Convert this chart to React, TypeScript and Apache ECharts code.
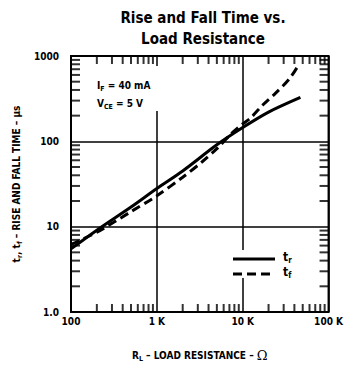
import React, { useEffect, useRef } from "react";
import * as echarts from "echarts";

const FONT = "'DejaVu Sans Condensed', 'DejaVu Sans', sans-serif";

// Rise time (solid) – load resistance (ohm) vs time (µs)
const R_RISE = [100, 200, 500, 1000, 2000, 5000, 10000, 20000, 47000];
const T_RISE = [5.5, 9.1, 17, 28, 45, 91, 145, 220, 327];

// Fall time (dashed)
const R_FALL = [100, 200, 500, 1000, 2000, 3400, 5000, 7500, 10000, 12500, 17000, 24000, 35000, 45000];
const T_FALL = [6.2, 8.6, 15, 23, 38, 58, 82, 125, 160, 190, 265, 365, 540, 790];

// Minor tick positions
const X_MINOR = [200, 300, 400, 500, 600, 700, 800, 900, 2000, 3000, 4000, 5000, 6000, 7000, 8000, 9000, 20000, 30000, 40000, 50000, 60000, 70000, 80000, 90000];
const Y_MINOR = [2, 3, 4, 5, 6, 7, 8, 9, 20, 30, 40, 50, 60, 70, 80, 90, 200, 300, 400, 500, 600, 700, 800, 900];

const X_TICK_LABELS: Record<number, string> = { 100: "100", 1000: "1 K", 10000: "10 K", 100000: "100 K" };
const Y_TICK_LABELS: Record<number, string> = { 1: "1.0", 10: "10", 100: "100", 1000: "1000" };

const X_MIN = 100, X_MAX = 100000, Y_MIN = 1, Y_MAX = 1000;
const TICK_LEN = 8;

export default function App() {
  const ref = useRef<HTMLDivElement>(null);
  useEffect(() => {
    if (!ref.current) return;
    const chart = echarts.init(ref.current, undefined, { renderer: "svg" });
    const sub = { fontSize: 7, fontWeight: "bold", fontFamily: FONT, color: "#000", lineHeight: 8, verticalAlign: "bottom" };
    const main = { fontSize: 10, fontWeight: "bold", fontFamily: FONT, color: "#000", lineHeight: 14 };
    const tickSeries = (data: number[][], size: number[], offset: number[]) => ({
      type: "scatter",
      clip: false,
      symbol: "rect",
      symbolSize: size,
      symbolOffset: offset,
      itemStyle: { color: "#000" },
      data,
    });
    chart.setOption({
      animation: false,
      backgroundColor: "#fff",
      title: {
        text: "Rise and Fall Time vs.\nLoad Resistance",
        left: 198,
        top: 2,
        textAlign: "center",
        textStyle: { fontFamily: FONT, fontWeight: "bold", fontSize: 15, lineHeight: 21, color: "#000" },
      },
      grid: { left: 71, top: 56, right: 16, bottom: 51, show: true, borderColor: "#000", borderWidth: 2 },
      xAxis: {
        type: "log",
        logBase: 10,
        min: X_MIN,
        max: X_MAX,
        axisLine: { show: false },
        axisTick: { show: false },
        splitLine: { show: true, lineStyle: { color: "#000", width: 1.5 } },
        axisLabel: {
          formatter: (v: number) => X_TICK_LABELS[Math.round(v)] ?? "",
          fontFamily: FONT, fontWeight: "bold", fontSize: 10, color: "#000", margin: 4,
        },
        name: "{m|R}{s|L}{m| – LOAD RESISTANCE – }{o|Ω}",
        nameLocation: "middle",
        nameGap: 36,
        nameTextStyle: { rich: { m: main, s: sub, o: { ...main, fontSize: 13, fontWeight: "normal", fontFamily: "'DejaVu Serif', serif" } } },
      },
      yAxis: {
        type: "log",
        logBase: 10,
        min: Y_MIN,
        max: Y_MAX,
        axisLine: { show: false },
        axisTick: { show: false },
        splitLine: { show: true, lineStyle: { color: "#000", width: 1.5 } },
        axisLabel: {
          formatter: (v: number) => Y_TICK_LABELS[Math.round(v)] ?? "",
          fontFamily: FONT, fontWeight: "bold", fontSize: 10, color: "#000", margin: 12,
        },
        name: "{m|t}{s|r}{m|, t}{s|f}{m| – RISE AND FALL TIME – µs}",
        nameLocation: "middle",
        nameRotate: 90,
        nameGap: 39,
        nameTextStyle: { rich: { m: main, s: sub } },
      },
      graphic: [
        { type: "rect", shape: { x: 90, y: 66, width: 76, height: 45 }, style: { fill: "#fff" }, z: 5 },
        {
          type: "text", x: 97, y: 78, z: 6,
          style: { text: "{m|I}{s|F}{m| = 40 mA}", rich: { m: main, s: sub } },
        },
        {
          type: "text", x: 97, y: 96, z: 6,
          style: { text: "{m|V}{s|CE}{m| = 5 V}", rich: { m: main, s: sub } },
        },
        // legend
        { type: "rect", shape: { x: 229, y: 250, width: 68, height: 28 }, style: { fill: "#fff" }, z: 5 },
        { type: "line", shape: { x1: 233, y1: 259, x2: 275, y2: 259 }, style: { stroke: "#000", lineWidth: 3 }, z: 6 },
        { type: "line", shape: { x1: 233, y1: 274, x2: 275, y2: 274 }, style: { stroke: "#000", lineWidth: 3, lineDash: [9, 5] }, z: 6 },
        {
          type: "text", x: 283, y: 250, z: 6,
          style: { text: "{m|t}{s|r}", rich: { m: { ...main, fontSize: 12, lineHeight: 14 }, s: { ...sub, fontSize: 8 } } },
        },
        {
          type: "text", x: 283, y: 265, z: 6,
          style: { text: "{m|t}{s|f}", rich: { m: { ...main, fontSize: 12, lineHeight: 14 }, s: { ...sub, fontSize: 8 } } },
        },
      ],
      series: [
        {
          name: "tr",
          type: "line",
          data: R_RISE.map((r, i) => [r, T_RISE[i]]),
          showSymbol: false,
          symbol: "none",
          smooth: 0.3,
          lineStyle: { color: "#000", width: 3 },
          z: 3,
        },
        {
          name: "tf",
          type: "line",
          data: R_FALL.map((r, i) => [r, T_FALL[i]]),
          showSymbol: false,
          symbol: "none",
          smooth: 0.3,
          lineStyle: { color: "#000", width: 3, type: [9, 5] },
          z: 3,
        },
        tickSeries(X_MINOR.map((v) => [v, Y_MIN]), [2, TICK_LEN], [0, -TICK_LEN / 2]),
        tickSeries(X_MINOR.map((v) => [v, Y_MAX]), [2, TICK_LEN], [0, TICK_LEN / 2]),
        tickSeries(Y_MINOR.map((v) => [X_MIN, v]), [TICK_LEN + 1, 2], [(TICK_LEN + 1) / 2, 0]),
        tickSeries(Y_MINOR.map((v) => [X_MAX, v]), [TICK_LEN + 1, 2], [-(TICK_LEN + 1) / 2, 0]),
      ],
    });
    return () => chart.dispose();
  }, []);
  return <div ref={ref} style={{ position: "fixed", left: 0, top: 0, width: 346, height: 367 }} />;
}
